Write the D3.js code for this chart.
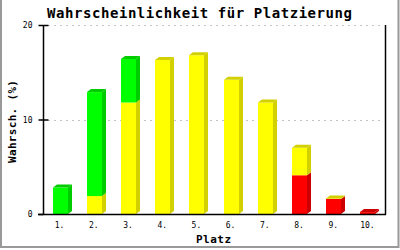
<!DOCTYPE html>
<html><head><meta charset="utf-8">
<script src="https://cdn.jsdelivr.net/npm/d3@7/dist/d3.min.js"></script>
<style>body{margin:0;background:#fff}svg{display:block}</style>
</head><body><svg id="c" width="400" height="250"></svg>
<script>
const categories = ["1.","2.","3.","4.","5.","6.","7.","8.","9.","10."];
const redValues    = [0, 0, 0, 0, 0, 0, 0, 4.1, 1.6, 0.2];
const yellowValues = [0, 1.9, 11.8, 16.3, 16.8, 14.2, 11.8, 2.9, 0.05, 0];
const greenValues  = [2.8, 11.0, 4.6, 0, 0, 0, 0, 0, 0, 0];
const yTicks = [0, 10, 20];
const title = "Wahrscheinlichkeit für Platzierung";
const xTitle = "Platz";
const yTitle = "Wahrsch. (%)";

const series = [
  {values: redValues, front: "#ff0000", side: "#cc0000"},
  {values: yellowValues, front: "#ffff00", side: "#d2d000"},
  {values: greenValues, front: "#00ff00", side: "#00cc00"}
];

const svg = d3.select("#c");
const L = 43, R = 385, T = 25, B = 214;
const x = d3.scaleBand().domain(categories).range([L, R]);
const y = d3.scaleLinear().domain([0, 20]).range([B, T]);
const bw = 15, dx = 4, dy = 3;

// frame
svg.append("path").attr("d", "M1,0V247H398.5V0").attr("fill", "none")
  .attr("stroke", "#999").attr("stroke-width", 2);

// grid
svg.append("g").selectAll("line").data(yTicks.filter(d => d > 0)).join("line")
  .attr("x1", L + 5).attr("x2", R - 2)
  .attr("y1", d => Math.round(y(d)) + 0.5).attr("y2", d => Math.round(y(d)) + 0.5)
  .attr("stroke", "#c4c4c4").attr("stroke-dasharray", "2,4");

// bars
const g = svg.append("g");
categories.forEach((c, i) => {
  const x0 = Math.round(x(c) + x.bandwidth() / 2 - bw / 2);
  let base = 0;
  let topIdx = -1;
  series.forEach((s, k) => { if (s.values[i] > 0) topIdx = k; });
  series.forEach((s, k) => {
    const v = s.values[i];
    if (!(v > 0)) return;
    const yb = y(base), yt = y(base + v);
    g.append("rect").attr("x", x0).attr("y", yt).attr("width", bw)
      .attr("height", Math.max(0, yb - yt)).attr("fill", s.front);
    g.append("polygon").attr("points",
      [[x0 + bw, yt], [x0 + bw + dx, yt - dy], [x0 + bw + dx, yb - dy], [x0 + bw, yb]].join(" "))
      .attr("fill", s.side);
    if (k === topIdx) {
      g.append("polygon").attr("points",
        [[x0, yt], [x0 + dx, yt - dy], [x0 + bw + dx, yt - dy], [x0 + bw, yt]].join(" "))
        .attr("fill", s.side);
    }
    base += v;
  });
});

// axes
svg.append("line").attr("x1", L + 0.5).attr("x2", L + 0.5).attr("y1", T).attr("y2", B + 0.5)
  .attr("stroke", "#000").attr("stroke-width", 1.5);
svg.append("line").attr("x1", R + 0.5).attr("x2", R + 0.5).attr("y1", T).attr("y2", B + 0.5)
  .attr("stroke", "#000").attr("stroke-width", 1.5);
svg.append("line").attr("x1", L - 5).attr("x2", R + 1).attr("y1", B + 0.5).attr("y2", B + 0.5)
  .attr("stroke", "#000").attr("stroke-width", 1.5);

const yAxis = d3.axisLeft(y).tickValues(yTicks).tickSize(5).tickPadding(6).tickFormat(d3.format("d"));
const ya = svg.append("g").attr("transform", `translate(${L + 0.5},0)`).call(yAxis);
ya.select(".domain").remove();
ya.selectAll(".tick line").attr("x2", -5).attr("x1", d => d > 0 ? 5 : 0)
  .attr("stroke-width", 1.5);
ya.selectAll("text").attr("font-family", "DejaVu Sans Mono").attr("font-size", 8).attr("fill", "#000");

const xAxis = d3.axisBottom(x).tickSize(0).tickPadding(8);
const xa = svg.append("g").attr("transform", `translate(-0.5,${B})`).call(xAxis);
xa.select(".domain").remove();
xa.selectAll("text").attr("font-family", "DejaVu Sans Mono").attr("font-size", 8).attr("fill", "#000");

// titles
svg.append("text").attr("x", 199.5).attr("y", 18).attr("text-anchor", "middle")
  .attr("font-family", "DejaVu Sans Mono").attr("font-weight", "bold").attr("font-size", 14)
  .attr("textLength", 305).attr("lengthAdjust", "spacing").text(title);
svg.append("text").attr("x", 213.5).attr("y", 243).attr("text-anchor", "middle")
  .attr("font-family", "DejaVu Sans Mono").attr("font-weight", "bold").attr("font-size", 11)
  .attr("textLength", 35).attr("lengthAdjust", "spacing").text(xTitle);
svg.append("text").attr("transform", `translate(16,121.5) rotate(-90)`).attr("text-anchor", "middle")
  .attr("font-family", "DejaVu Sans Mono").attr("font-weight", "bold").attr("font-size", 11)
  .attr("textLength", 83).attr("lengthAdjust", "spacing").text(yTitle);
</script></body></html>
